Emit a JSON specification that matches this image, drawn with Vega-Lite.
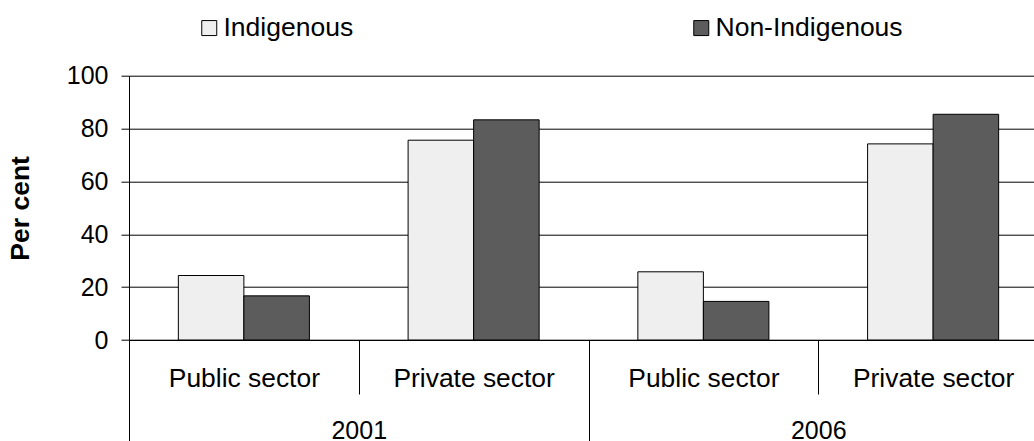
{
  "$schema": "https://vega.github.io/schema/vega-lite/v6.json",
  "autosize": "none",
  "width": 905,
  "height": 264.3,
  "padding": {"left": 129, "top": 75.7, "right": 0, "bottom": 101},
  "background": "white",
  "config": {
    "view": {"stroke": null},
    "font": "Liberation Sans",
    "axis": {"labelFont": "Liberation Sans", "titleFont": "Liberation Sans", "labelColor": "black", "titleColor": "black", "domainColor": "black", "tickColor": "black"},
    "legend": {"labelFont": "Liberation Sans"}
  },
  "data": {
    "values": [
      {"year": "2001", "sector": "Public sector", "group": "2001|Public sector", "series": "Indigenous", "value": 24.4},
      {"year": "2001", "sector": "Public sector", "group": "2001|Public sector", "series": "Non-Indigenous", "value": 16.7},
      {"year": "2001", "sector": "Private sector", "group": "2001|Private sector", "series": "Indigenous", "value": 75.6},
      {"year": "2001", "sector": "Private sector", "group": "2001|Private sector", "series": "Non-Indigenous", "value": 83.3},
      {"year": "2006", "sector": "Public sector", "group": "2006|Public sector", "series": "Indigenous", "value": 25.8},
      {"year": "2006", "sector": "Public sector", "group": "2006|Public sector", "series": "Non-Indigenous", "value": 14.6},
      {"year": "2006", "sector": "Private sector", "group": "2006|Private sector", "series": "Indigenous", "value": 74.2},
      {"year": "2006", "sector": "Private sector", "group": "2006|Private sector", "series": "Non-Indigenous", "value": 85.4}
    ]
  },
  "layer": [
    {
      "mark": {"type": "bar", "stroke": "black", "strokeWidth": 1, "fillOpacity": 1},
      "encoding": {
        "x": {
          "field": "group", "type": "nominal",
          "scale": {"domain": ["2001|Public sector", "2001|Private sector", "2006|Public sector", "2006|Private sector"], "range": [0, 919], "paddingInner": 0, "paddingOuter": 0},
          "axis": {"title": null, "labelAngle": 0, "labelFontSize": 26.4, "labelExpr": "split(datum.label, '|')[1]", "tickBand": "extent", "tickSize": 54, "labelPadding": -28.2, "labelOverlap": false, "labelLimit": 400, "grid": false, "orient": "bottom", "domainWidth": 1, "tickWidth": 1}
        },
        "xOffset": {
          "field": "series", "type": "nominal",
          "scale": {"domain": ["Indigenous", "Non-Indigenous"], "paddingInner": 0, "paddingOuter": 0.753}
        },
        "y": {
          "field": "value", "type": "quantitative",
          "scale": {"domain": [0, 100], "nice": false},
          "axis": {"title": "Per cent", "titleFontSize": 26.5, "titleFontWeight": "bold", "titlePadding": 32, "values": [0, 20, 40, 60, 80, 100], "labelFontSize": 25, "tickSize": 8, "labelPadding": 13, "grid": true, "gridColor": "black", "gridWidth": 1, "gridOpacity": 1}
        },
        "fill": {
          "field": "series", "type": "nominal",
          "scale": {"domain": ["Indigenous", "Non-Indigenous"], "range": ["#efefef", "#5c5c5c"]},
          "legend": {"title": null, "orient": "none", "legendX": 67, "legendY": -61, "direction": "horizontal", "columns": 2, "columnPadding": 334, "symbolType": "square", "symbolSize": 225, "symbolStrokeColor": "black", "symbolStrokeWidth": 1, "symbolOpacity": 1, "labelFontSize": 26.5, "labelOffset": 1, "labelColor": "black", "padding": 0, "labelLimit": 400}
        }
      }
    },
    {
      "mark": {"type": "point", "opacity": 0},
      "encoding": {
        "x": {
          "field": "year", "type": "nominal",
          "scale": {"domain": ["2001", "2006"], "range": [0, 919], "paddingInner": 0, "paddingOuter": 0},
          "axis": {"title": null, "orient": "bottom", "labelAngle": 0, "labelFontSize": 25, "tickBand": "extent", "tickSize": 101, "labelPadding": -22.5, "domain": false, "grid": false, "labelOverlap": false, "tickWidth": 1}
        },
        "y": {"field": "value", "type": "quantitative"}
      }
    }
  ],
  "resolve": {"scale": {"x": "independent"}}
}
